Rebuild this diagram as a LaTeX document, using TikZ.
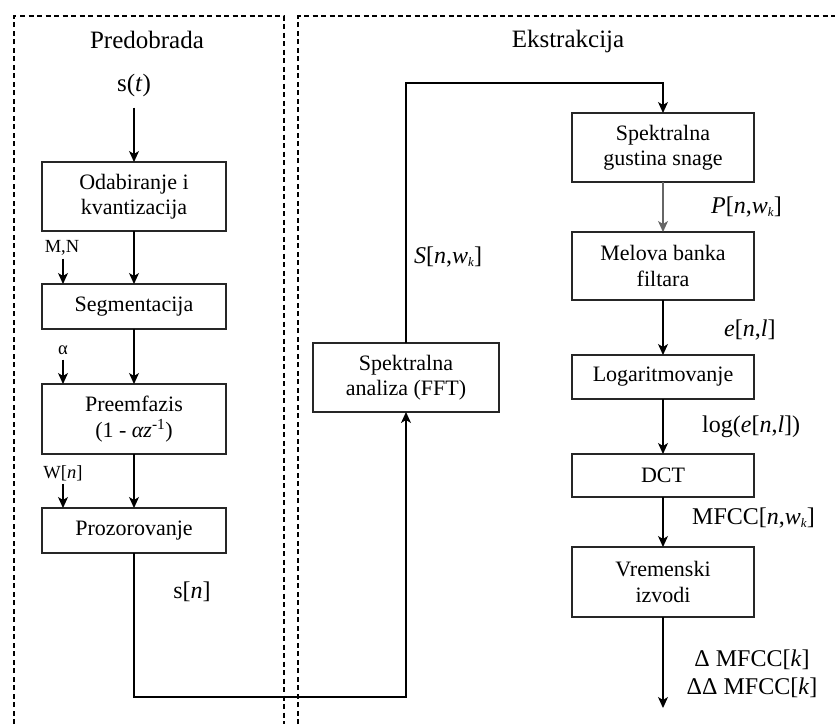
\documentclass[tikz,border=0pt]{standalone}
\usepackage{fontspec}
\setmainfont{Liberation Serif}
\usetikzlibrary{arrows.meta}
\newcommand{\wk}{\textit{w}\raisebox{-3pt}{\fontsize{13}{13}\selectfont\textit{k}}}
\begin{document}
\begin{tikzpicture}[x=1pt,y=-1pt,
  stepbox/.style={draw=black!85, line width=1.2pt, minimum width=184pt, inner sep=0pt, outer sep=0pt, align=center, font=\fontsize{22}{25.5}\selectfont},
  arr/.style={line width=1.2pt, -{Stealth[length=11pt,width=10pt,inset=3pt]}},
  heading/.style={inner sep=0pt, font=\fontsize{25}{30}\selectfont},
  sig/.style={inner sep=0pt, font=\fontsize{24}{28}\selectfont},
  side/.style={inner sep=0pt, font=\fontsize{18.5}{21}\selectfont},
  frame/.style={line width=1.2pt, dash pattern=on 5pt off 3.5pt}
]
\useasboundingbox (0,0) rectangle (835,724);
% frames
\draw[frame] (14,724) -- (14,16) -- (284,16) -- (284,724);
\draw[frame] (298,724) -- (298,16) -- (835,16);
\node[heading] (hpre) at (147,40) {Predobrada};
\node[heading] (hext) at (568,41) {Ekstrakcija};

% left column
\node[heading] (st) at (134,85) {s(\textit{t})};
\node[stepbox, minimum height=69pt] (odab) at (134,196.5) {Odabiranje i\\kvantizacija};
\node[stepbox, minimum height=45pt] (seg) at (134,306.5) {Segmentacija};
\node[stepbox, minimum height=70pt] (pre) at (134,419) {Preemfazis\\(1 - \textit{αz}\textsuperscript{-1})};
\node[stepbox, minimum height=45pt] (proz) at (134,530.5) {Prozorovanje};

\draw[arr, shorten <=11pt] (st.south) -- (odab.north);
\draw[arr] (odab.south) -- (seg.north);
\draw[arr] (seg.south) -- (pre.north);
\draw[arr] (pre.south) -- (proz.north);

% side inputs
\node[side] (mn) at (62,248) {M,N};
\node[side] (al) at (63,350) {α};
\node[side] (wn) at (63,473) {W[\textit{n}]};
\coordinate (mnin) at (63,284);
\coordinate (alin) at (63,384);
\coordinate (wnin) at (63,508);
\draw[arr, shorten <=3pt] (mn.south -| mnin) -- (mnin);
\draw[arr, shorten <=5pt] (al.south) -- (alin);
\draw[arr, shorten <=3pt] (wn.south) -- (wnin);

% right column
\node[stepbox, minimum width=186pt, minimum height=69pt] (fft) at (406,377.5) {Spektralna\\analiza (FFT)};
\node[stepbox, minimum width=182pt, minimum height=69pt] (psd) at (663,147.5) {Spektralna\\gustina snage};
\node[stepbox, minimum width=182pt, minimum height=68pt] (mel) at (663,266) {Melova banka\\filtara};
\node[stepbox, minimum width=182pt, minimum height=44pt] (logn) at (663,377) {Logaritmovanje};
\node[stepbox, minimum width=182pt, minimum height=43pt] (dct) at (663,475.5) {DCT};
\node[stepbox, minimum width=182pt, minimum height=70pt] (vrem) at (663,582) {Vremenski\\izvodi};

\coordinate (bot) at (406,697);
\coordinate (top) at (406,83);
\coordinate (out) at (663,708);

\draw[arr] (proz.south) |- (bot) -- (fft.south);
\draw[arr] (fft.north) -- (top) -| (psd.north);
\draw[arr, draw=black!60] (psd.south) -- (mel.north);
\draw[arr] (mel.south) -- (logn.north);
\draw[arr] (logn.south) -- (dct.north);
\draw[arr] (dct.south) -- (vrem.north);
\draw[arr] (vrem.south) -- (out);

% signal labels
\node[sig] (sn) at (192,592) {s[\textit{n}]};
\node[sig, anchor=west] (snw) at (414,257) {\textit{S}[\textit{n},\wk]};
\node[sig, anchor=west] (pnw) at (711,207) {\textit{P}[\textit{n},\wk]};
\node[sig, anchor=west] (enl) at (724,330) {\textit{e}[\textit{n},\textit{l}]};
\node[sig, anchor=west] (lenl) at (702,427) {log(\textit{e}[\textit{n},\textit{l}])};
\node[sig, anchor=west] (mfcc) at (692,518) {MFCC[\textit{n},\wk]};
\node[sig, align=center, font=\fontsize{24}{28}\selectfont] (dmfcc) at (752,674) {Δ MFCC[\textit{k}]\\ΔΔ MFCC[\textit{k}]};
\end{tikzpicture}
\end{document}
